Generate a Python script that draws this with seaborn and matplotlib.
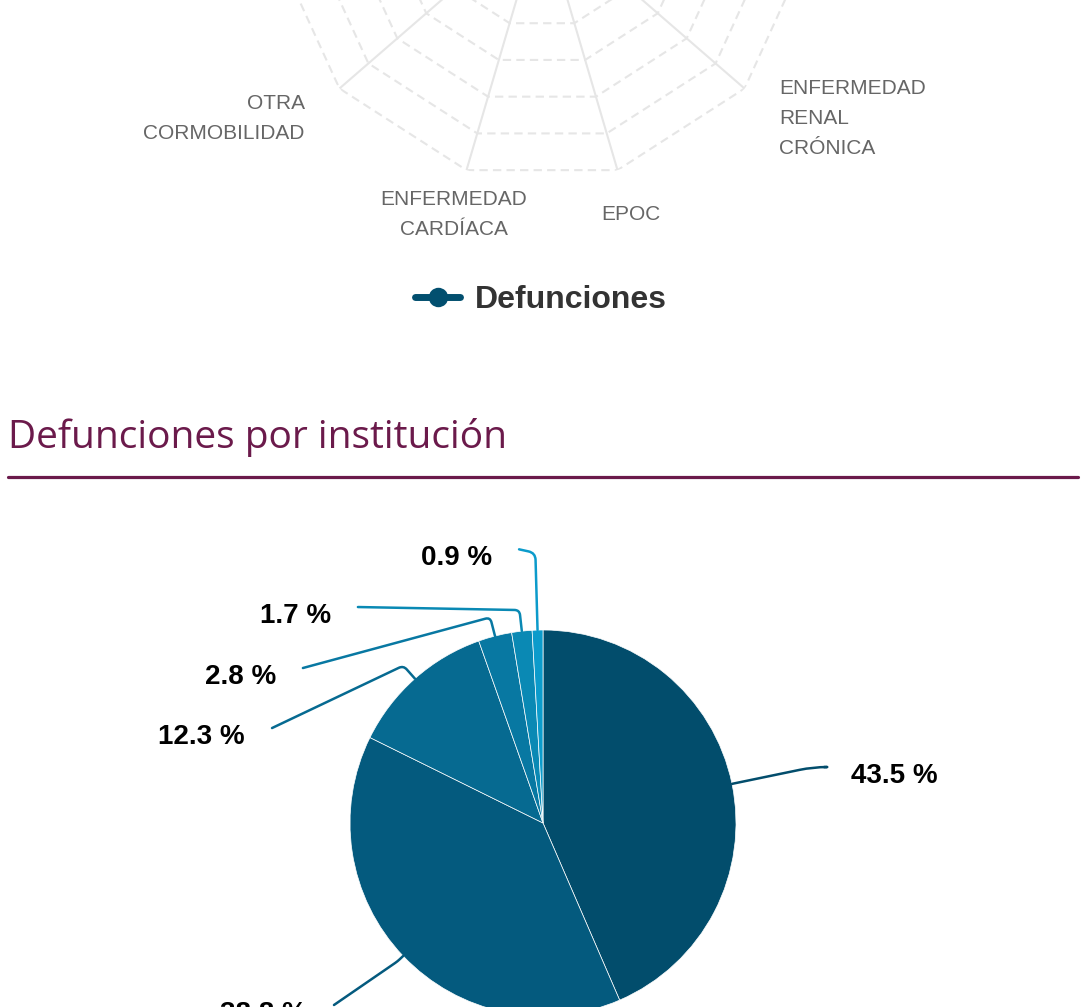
import numpy as np
import matplotlib
matplotlib.use("Agg")
import matplotlib.pyplot as plt
from matplotlib.lines import Line2D
import seaborn as sns

# ==========================================
# Data
# ==========================================
comorbilidades = ["HIPERTENSIÓN", "DIABETES", "OBESIDAD", "TABAQUISMO",
                  "ENFERMEDAD RENAL CRÓNICA", "EPOC", "ENFERMEDAD CARDÍACA",
                  "OTRA CORMOBILIDAD", "INMUNOSUPRESIÓN", "ASMA", "VIH/SIDA"]
defunciones = [3210, 2870, 1650, 620, 430, 340, 300, 390, 160, 110, 50]
radar_ticks = [500, 1000, 1500, 2000, 2500, 3000, 3500]

instituciones = ["IMSS", "SSA", "ISSSTE", "PEMEX", "SEDENA", "OTRAS"]
porcentaje = [43.5, 38.8, 12.3, 2.8, 1.7, 0.9]

# ==========================================
# Styling / layout
# ==========================================
W, H = 1091, 1007
SERIES_COLOR = "#024f6f"
PIE_COLORS = ["#024d6c", "#045a7e", "#066a91", "#0878a2", "#0a89b4", "#0c9bcb"]
GRID_COLOR = "#e6e6e6"
TITLE_COLOR = "#6b1a4b"

# label anchor (end of connector) for each slice, in pie radius units
label_ends = [(1.456, 0.290), (-1.083, -0.943), (-1.404, 0.492),
              (-1.244, 0.803), (-0.959, 1.119), (-0.124, 1.418)]
corner_r = [1.43, 1.04, 1.09, 1.10, 1.11, 1.40]
corner_rad = [14, 3, 5, 5, 5, 7]

sns.set_theme(style="white")
plt.rcParams['font.family'] = ['Liberation Sans', 'DejaVu Sans']

fig = plt.figure(figsize=(W / 100, H / 100), dpi=100)
fig.patch.set_facecolor("white")


def px_box(cx, cy, r):
    """axes rect (figure fraction) for a square box of radius r centered at pixel (cx, cy)"""
    return [(cx - r) / W, (H - cy - r) / H, 2 * r / W, 2 * r / H]


# ==========================================
# 1. Radar (cut off at the top)
# ==========================================
ax_r = fig.add_axes(px_box(542, -87, 268), projection="polar")
ax_r.set_theta_zero_location("N")
ax_r.set_theta_direction(-1)
ax_r.patch.set_alpha(0)

n = len(comorbilidades)
theta = np.linspace(0, 2 * np.pi, n, endpoint=False)
theta_c = np.append(theta, theta[0])
rmax = radar_ticks[-1]

for t in radar_ticks:
    ax_r.plot(theta_c, [t] * (n + 1), color=GRID_COLOR, lw=1.5,
              ls=(0, (4, 2.5)), zorder=1)
ax_r.vlines(theta, 0, rmax, color=GRID_COLOR, lw=1.5, zorder=1)

sns.lineplot(x=theta_c, y=defunciones + [defunciones[0]], ax=ax_r, sort=False,
             estimator=None, color=SERIES_COLOR, lw=5, marker="o",
             markersize=14, markeredgewidth=0, zorder=3)
series_line = ax_r.lines[-1]

ax_r.set_ylim(0, rmax)
ax_r.grid(False)
ax_r.spines["polar"].set_visible(False)
ax_r.set_xticks([])
ax_r.set_yticks([])
ax_r.set_xlabel("")
ax_r.set_ylabel("")

for ang, lab in zip(theta, comorbilidades):
    sx = np.sin(ang)
    ha = "left" if sx > 0.35 else ("right" if sx < -0.35 else "center")
    ax_r.text(ang, rmax * 1.172, lab.replace(" ", "\n"), ha=ha, va="center",
              fontsize=15, color="#666666", linespacing=1.75, clip_on=False)

fig.legend([series_line], ["Defunciones"], loc="center",
           bbox_to_anchor=(541 / W, 1 - 300 / H), frameon=False,
           prop=dict(weight="bold", size=23), labelcolor="#333333",
           handlelength=1.4, handletextpad=0.45, numpoints=1)

# ==========================================
# 2. Section title
# ==========================================
fig.text(8 / W, 1 - 448 / H, "Defunciones por institución", fontsize=28,
         family=["Open Sans", "DejaVu Sans"], color=TITLE_COLOR,
         ha="left", va="baseline")
fig.add_artist(Line2D([8 / W, 1078 / W], [1 - 477.5 / H] * 2,
                      lw=2.3, color=TITLE_COLOR))

# ==========================================
# 3. Pie
# ==========================================
ax_p = fig.add_axes(px_box(543, 823, 193))
wedges, _ = ax_p.pie(porcentaje, colors=PIE_COLORS, startangle=90,
                     counterclock=False, radius=1,
                     wedgeprops=dict(edgecolor="white", linewidth=0.5))
ax_p.set_xlim(-1, 1)
ax_p.set_ylim(-1, 1)
ax_p.set_aspect("equal")
ax_p.axis("off")

gap = 0.14
for w, val, col, (ex, ey), cr, rad in zip(wedges, porcentaje, PIE_COLORS,
                                          label_ends, corner_r, corner_rad):
    mid = np.deg2rad((w.theta1 + w.theta2) / 2)
    sx, sy = np.cos(mid), np.sin(mid)
    kx, ky = cr * sx, cr * sy
    angA = np.degrees(np.arctan2(ky - ey, kx - ex))
    angB = np.degrees(mid)
    ax_p.annotate("", xy=(sx, sy), xytext=(ex, ey), annotation_clip=False,
                  arrowprops=dict(arrowstyle="-", color=col, lw=1.8,
                                  shrinkA=0, shrinkB=0,
                                  connectionstyle=f"angle,angleA={angA:.2f},angleB={angB:.2f},rad={rad}"))
    if ex > 0:
        ax_p.text(ex + gap, ey - 0.045, f"{val:.1f} %", ha="left", va="center",
                  fontsize=20, fontweight="bold", color="black", clip_on=False)
    else:
        ax_p.text(ex - gap, ey - 0.045, f"{val:.1f} %", ha="right", va="center",
                  fontsize=20, fontweight="bold", color="black", clip_on=False)

fig.savefig("out.png", dpi=100, facecolor="white")
